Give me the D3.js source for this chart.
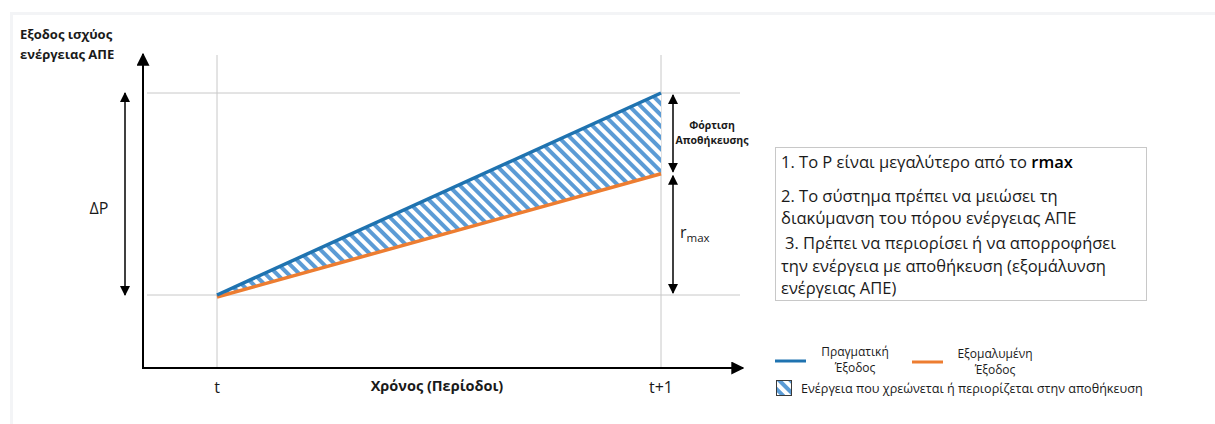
<!DOCTYPE html>
<html>
<head>
<meta charset="utf-8">
<script src="https://cdn.jsdelivr.net/npm/d3@7"></script>
<style>
  body { margin: 0; background: #fff; }
  svg text { font-family: "Open Sans", "Noto Sans", sans-serif; fill: #1a1a1a; }
</style>
</head>
<body>
<svg id="chart" width="1215" height="424"></svg>
<script>
// data (values in % of ΔP)
const periods = ['t', 't+1'];
const actualOut = [0, 100];
const smoothedOut = [-1, 60];
const rmaxValue = 60;
const noteLines = [
  ['1. Το Ρ είναι μεγαλύτερο από το ', 'rmax'],
  ['2. Το σύστημα πρέπει να μειώσει τη'],
  ['διακύμανση του πόρου ενέργειας ΑΠΕ'],
  ['3. Πρέπει να περιορίσει ή να απορροφήσει'],
  ['την ενέργεια με αποθήκευση (εξομάλυνση'],
  ['ενέργειας ΑΠΕ)']
];
const legendItems = [
  {name: ['Πραγματική', 'Έξοδος'], color: '#1f73b0'},
  {name: ['Εξομαλυμένη', 'Έξοδος'], color: '#ed7d31'}
];
const hatchLabel = 'Ενέργεια που χρεώνεται ή περιορίζεται στην αποθήκευση';

const blue = '#1f73b0', orange = '#ed7d31', stripe = '#5b9bd5', grid = '#c8c8c8';

const svg = d3.select('#chart');

// faint frame
svg.append('rect').attr('x', 10).attr('y', 12).attr('width', 1205).attr('height', 3).attr('fill', '#f3f4f6');
svg.append('rect').attr('x', 10).attr('y', 12).attr('width', 3).attr('height', 412).attr('fill', '#f3f4f6');

const x = d3.scalePoint().domain(periods).range([217, 661]);
const y = d3.scaleLinear().domain([0, 100]).range([295, 93]);
const axisX0 = 143, axisY0 = 368;

const defs = svg.append('defs');
const mk = (id, size) => defs.append('marker').attr('id', id)
  .attr('viewBox', '0 0 10 10').attr('refX', 9).attr('refY', 5)
  .attr('markerWidth', size).attr('markerHeight', size).attr('markerUnits', 'userSpaceOnUse')
  .attr('orient', 'auto-start-reverse')
  .append('path').attr('d', 'M0,0 L10,5 L0,10 Z').attr('fill', '#000');
mk('arr', 10);
mk('arrBig', 13);

const pat = defs.append('pattern').attr('id', 'hatch')
  .attr('patternUnits', 'userSpaceOnUse').attr('width', 8).attr('height', 8)
  .attr('patternTransform', 'rotate(-45)');
pat.append('rect').attr('width', 8).attr('height', 8).attr('fill', '#fff');
pat.append('rect').attr('width', 4).attr('height', 8).attr('fill', stripe);

// gridlines
const g = svg.append('g');
g.selectAll('.vg').data(periods).enter().append('line')
  .attr('x1', d => x(d)).attr('x2', d => x(d))
  .attr('y1', 55).attr('y2', axisY0)
  .attr('stroke', grid).attr('stroke-width', 1);
g.selectAll('.hg').data([0, 100]).enter().append('line')
  .attr('x1', axisX0 + 4).attr('x2', 740)
  .attr('y1', d => y(d)).attr('y2', d => y(d))
  .attr('stroke', grid).attr('stroke-width', 1);

// hatched area between the two outputs
const pts = periods.map((p, i) => ({p, a: actualOut[i], s: smoothedOut[i]}));
g.append('path').datum(pts)
  .attr('d', d3.area().x(d => x(d.p)).y0(d => y(d.s)).y1(d => y(d.a)))
  .attr('fill', 'url(#hatch)');

const line = (key) => d3.line().x(d => x(d.p)).y(d => y(d[key]));
g.append('path').datum(pts).attr('d', line('s'))
  .attr('fill', 'none').attr('stroke', orange).attr('stroke-width', 3.5);
g.append('path').datum(pts).attr('d', line('a'))
  .attr('fill', 'none').attr('stroke', blue).attr('stroke-width', 3.5);

// axes
svg.append('line').attr('x1', axisX0).attr('x2', axisX0).attr('y1', axisY0 + 1).attr('y2', 54)
  .attr('stroke', '#000').attr('stroke-width', 2).attr('marker-end', 'url(#arrBig)');
svg.append('line').attr('x1', axisX0 - 1).attr('x2', 743).attr('y1', axisY0).attr('y2', axisY0)
  .attr('stroke', '#000').attr('stroke-width', 2).attr('marker-end', 'url(#arrBig)');

// double arrows
const dbl = (xx, v0, v1) => svg.append('line')
  .attr('x1', xx).attr('x2', xx).attr('y1', y(v0)).attr('y2', y(v1))
  .attr('stroke', '#000').attr('stroke-width', 1.5)
  .attr('marker-start', 'url(#arr)').attr('marker-end', 'url(#arr)');
dbl(125, 0, 100);
dbl(673, 99, rmaxValue + 1);
dbl(673, rmaxValue - 1, 1);

svg.append('text').attr('x', 99).attr('y', y(40)).attr('text-anchor', 'middle')
  .attr('font-size', 16).text('ΔP');

const st = svg.append('text').attr('text-anchor', 'middle')
  .attr('font-size', 10.5).attr('font-weight', 'bold');
st.append('tspan').attr('x', 712).attr('y', y(82)).text('Φόρτιση');
st.append('tspan').attr('x', 712).attr('y', y(82) + 15).text('Αποθήκευσης');

const rt = svg.append('text').attr('x', 680).attr('y', y(28)).attr('font-size', 16);
rt.append('tspan').text('r');
rt.append('tspan').attr('font-size', 11.5).attr('dy', 4).text('max');

// titles & x labels
const yt = svg.append('text').attr('font-size', 13).attr('font-weight', 'bold');
yt.append('tspan').attr('x', 20).attr('y', 39).text('Εξοδος ισχύος');
yt.append('tspan').attr('x', 20).attr('y', 59).text('ενέργειας ΑΠΕ');

svg.selectAll('.xl').data(periods).enter().append('text')
  .attr('x', d => x(d)).attr('y', 393).attr('text-anchor', 'middle')
  .attr('font-size', 16).text(d => d);
svg.append('text').attr('x', 437).attr('y', 391).attr('text-anchor', 'middle')
  .attr('font-size', 14.5).attr('font-weight', 'bold').text('Χρόνος (Περίοδοι)');

// note box
svg.append('rect').attr('x', 775.5).attr('y', 147.5).attr('width', 371).attr('height', 153)
  .attr('fill', '#fff').attr('stroke', '#c8c8c8');
const noteY = [168, 202, 224, 249, 272, 294];
const noteX = [781, 781, 781, 785, 781, 781];
noteLines.forEach((parts, i) => {
  const t = svg.append('text').attr('x', noteX[i]).attr('y', noteY[i]).attr('font-size', 16.5);
  t.append('tspan').text(parts[0]);
  if (parts[1]) t.append('tspan').attr('fill', '#000').attr('font-weight', 600).text(parts[1]);
});

// legend
const leg = svg.append('g');
legendItems.forEach((d, i) => {
  const lx = 775 + i * 137;
  leg.append('line').attr('x1', lx).attr('x2', lx + 31).attr('y1', 361 + i).attr('y2', 361 + i)
    .attr('stroke', d.color).attr('stroke-width', 3);
  const t = leg.append('text').attr('text-anchor', 'middle').attr('font-size', 12);
  d.name.forEach((n, j) => t.append('tspan').attr('x', lx + 80 + i * 3).attr('y', 356 + i * 2 + j * 16).text(n));
});
leg.append('rect').attr('x', 776.5).attr('y', 380.5).attr('width', 15).attr('height', 15)
  .attr('fill', 'url(#hatch)').attr('stroke', '#3a3a3a').attr('stroke-width', 1);
leg.append('text').attr('x', 801).attr('y', 393).attr('font-size', 12.6).text(hatchLabel);
</script>
</body>
</html>
